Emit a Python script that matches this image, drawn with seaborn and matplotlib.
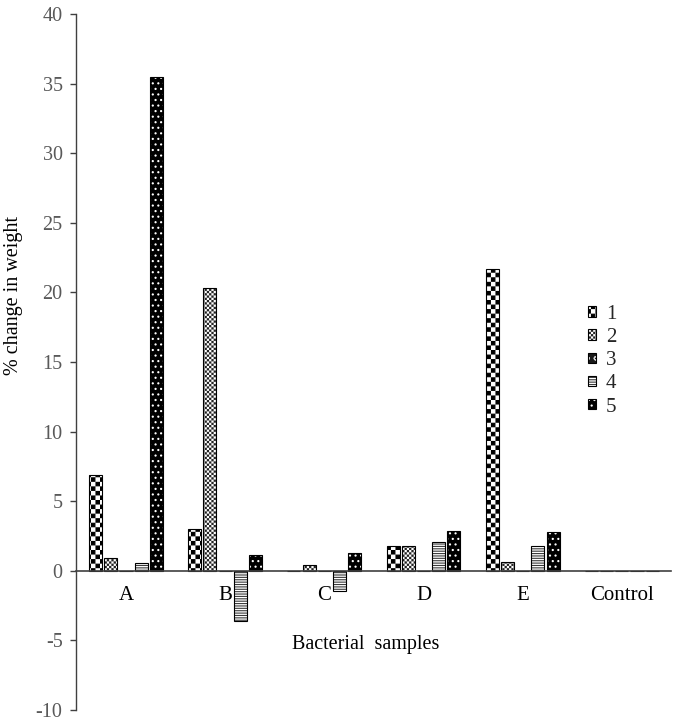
import numpy as np
import pandas as pd
import matplotlib
matplotlib.use("Agg")
import matplotlib.pyplot as plt
import matplotlib.hatch as mhatch
import matplotlib.patches as mpatches
import matplotlib.colors as mcolors
from matplotlib.path import Path
import seaborn as sns

# ---------------- data ----------------
samples = ["A", "B", "C", "D", "E", "Control"]
series = ["1", "2", "3", "4", "5"]
s1 = [6.9, 3.0, 0.0, 1.75, 21.7, 0.0]
s2 = [0.95, 20.3, 0.45, 1.75, 0.6, 0.0]
s3 = [0.0, 0.0, 0.0, 0.0, 0.0, 0.0]
s4 = [0.55, -3.6, -1.45, 2.1, 1.75, 0.0]
s5 = [35.5, 1.15, 1.25, 2.85, 2.8, 0.0]
yticks = [-10, -5, 0, 5, 10, 15, 20, 25, 30, 35, 40]

values = {"1": s1, "2": s2, "3": s3, "4": s4, "5": s5}
df = pd.DataFrame([(smp, s, values[s][i]) for s in series for i, smp in enumerate(samples)],
                  columns=["sample", "series", "value"])

# ---------------- custom checkerboard hatch ----------------
class Checker(mhatch.HatchPatternBase):
    filled = True

    def __init__(self, hatch, density):
        c = hatch.count('*')
        self.n = {0: 0, 1: 22, 2: 44}.get(c, 22 * c)
        self.num_vertices = (self.n * self.n // 2) * 5 if self.n else 0

    def set_vertices_and_codes(self, vertices, codes):
        n = self.n
        s = 1.0 / n
        sh = matplotlib.rcParams['hatch.linewidth'] / 72.0 / 2.0
        sh = min(sh, s * 0.35)
        k = 0
        for i in range(n):
            for j in range(n):
                if (i + j) % 2 == 0:
                    x0, y0 = i * s + sh, j * s + sh
                    x1, y1 = (i + 1) * s - sh, (j + 1) * s - sh
                    vertices[k:k + 5] = [(x0, y0), (x1, y0), (x1, y1), (x0, y1), (x0, y0)]
                    codes[k:k + 5] = [Path.MOVETO, Path.LINETO, Path.LINETO,
                                      Path.LINETO, Path.CLOSEPOLY]
                    k += 5


for idx, ht in enumerate(mhatch._hatch_types):
    if ht is mhatch.Stars:
        mhatch._hatch_types[idx] = Checker

# ---------------- style ----------------
sns.set_theme(style="white")
plt.rcParams['font.family'] = ['Liberation Serif', 'DejaVu Serif']
plt.rcParams['hatch.linewidth'] = 0.8

styles = {
    "1": dict(face="white", hatch="*", hcolor="black"),
    "2": dict(face="white", hatch="**", hcolor="#222222"),
    "3": dict(face="#1a1a1a", hatch="oo", hcolor="#d8d8d8"),
    "4": dict(face="white", hatch="-------", hcolor="#3a3a3a"),
    "5": dict(face="black", hatch="...", hcolor="white"),
}

fig = plt.figure(figsize=(6.75, 7.21), dpi=100)
ax = fig.add_axes([76.4 / 675, 11 / 721, 595 / 675, 696 / 721])

sns.barplot(data=df, x="sample", y="value", hue="series", order=samples,
            hue_order=series, palette=["white"] * 5, saturation=1,
            width=0.766, gap=0.14, errorbar=None, edgecolor="black",
            linewidth=0.8, legend=False, ax=ax)


def style_patch(p, st):
    p.set_facecolor(st["face"])
    p.set_edgecolor("black")
    p.set_linewidth(0.8)
    p.set_hatch(st["hatch"])
    p._hatch_color = mcolors.to_rgba(st["hcolor"])


for s, cont in zip(series, ax.containers):
    for bar in cont:
        style_patch(bar, styles[s])

ax.set_xlim(-0.5, len(samples) - 0.5)
ax.set_ylim(-10, 40)
ax.set_yticks(yticks)
ax.set_yticklabels([str(t) for t in yticks])

for sp in ["top", "right"]:
    ax.spines[sp].set_visible(False)
ax.spines["left"].set_color("#404040")
ax.spines["left"].set_linewidth(1.0)
ax.spines["bottom"].set_position(("data", 0))
ax.spines["bottom"].set_color("#404040")
ax.spines["bottom"].set_linewidth(1.2)

ax.tick_params(axis="y", direction="out", length=4, width=1.0, color="#404040",
               labelsize=14.5, labelcolor="#595959", pad=6, left=True)
ax.tick_params(axis="x", length=0, labelsize=15, labelcolor="black", pad=11)

ax.set_xlabel("Bacterial  samples", fontsize=14.5, color="black")
ax.xaxis.set_label_coords(0.487, 0.108)
ax.set_ylabel("% change in weight", fontsize=14.5, color="black")
ax.yaxis.set_label_coords(-0.089, 0.596)

handles = []
for s in series:
    p = mpatches.Patch(label=s)
    style_patch(p, styles[s])
    handles.append(p)
ax.legend(handles=handles, loc="upper left", bbox_to_anchor=(588 / 675, 1 - 305 / 721),
          bbox_transform=fig.transFigure, frameon=False, fontsize=15,
          handlelength=0.4, handleheight=0.4, handletextpad=0.45,
          labelspacing=0.2, borderpad=0, borderaxespad=0)

fig.savefig("out.png", dpi=100)
